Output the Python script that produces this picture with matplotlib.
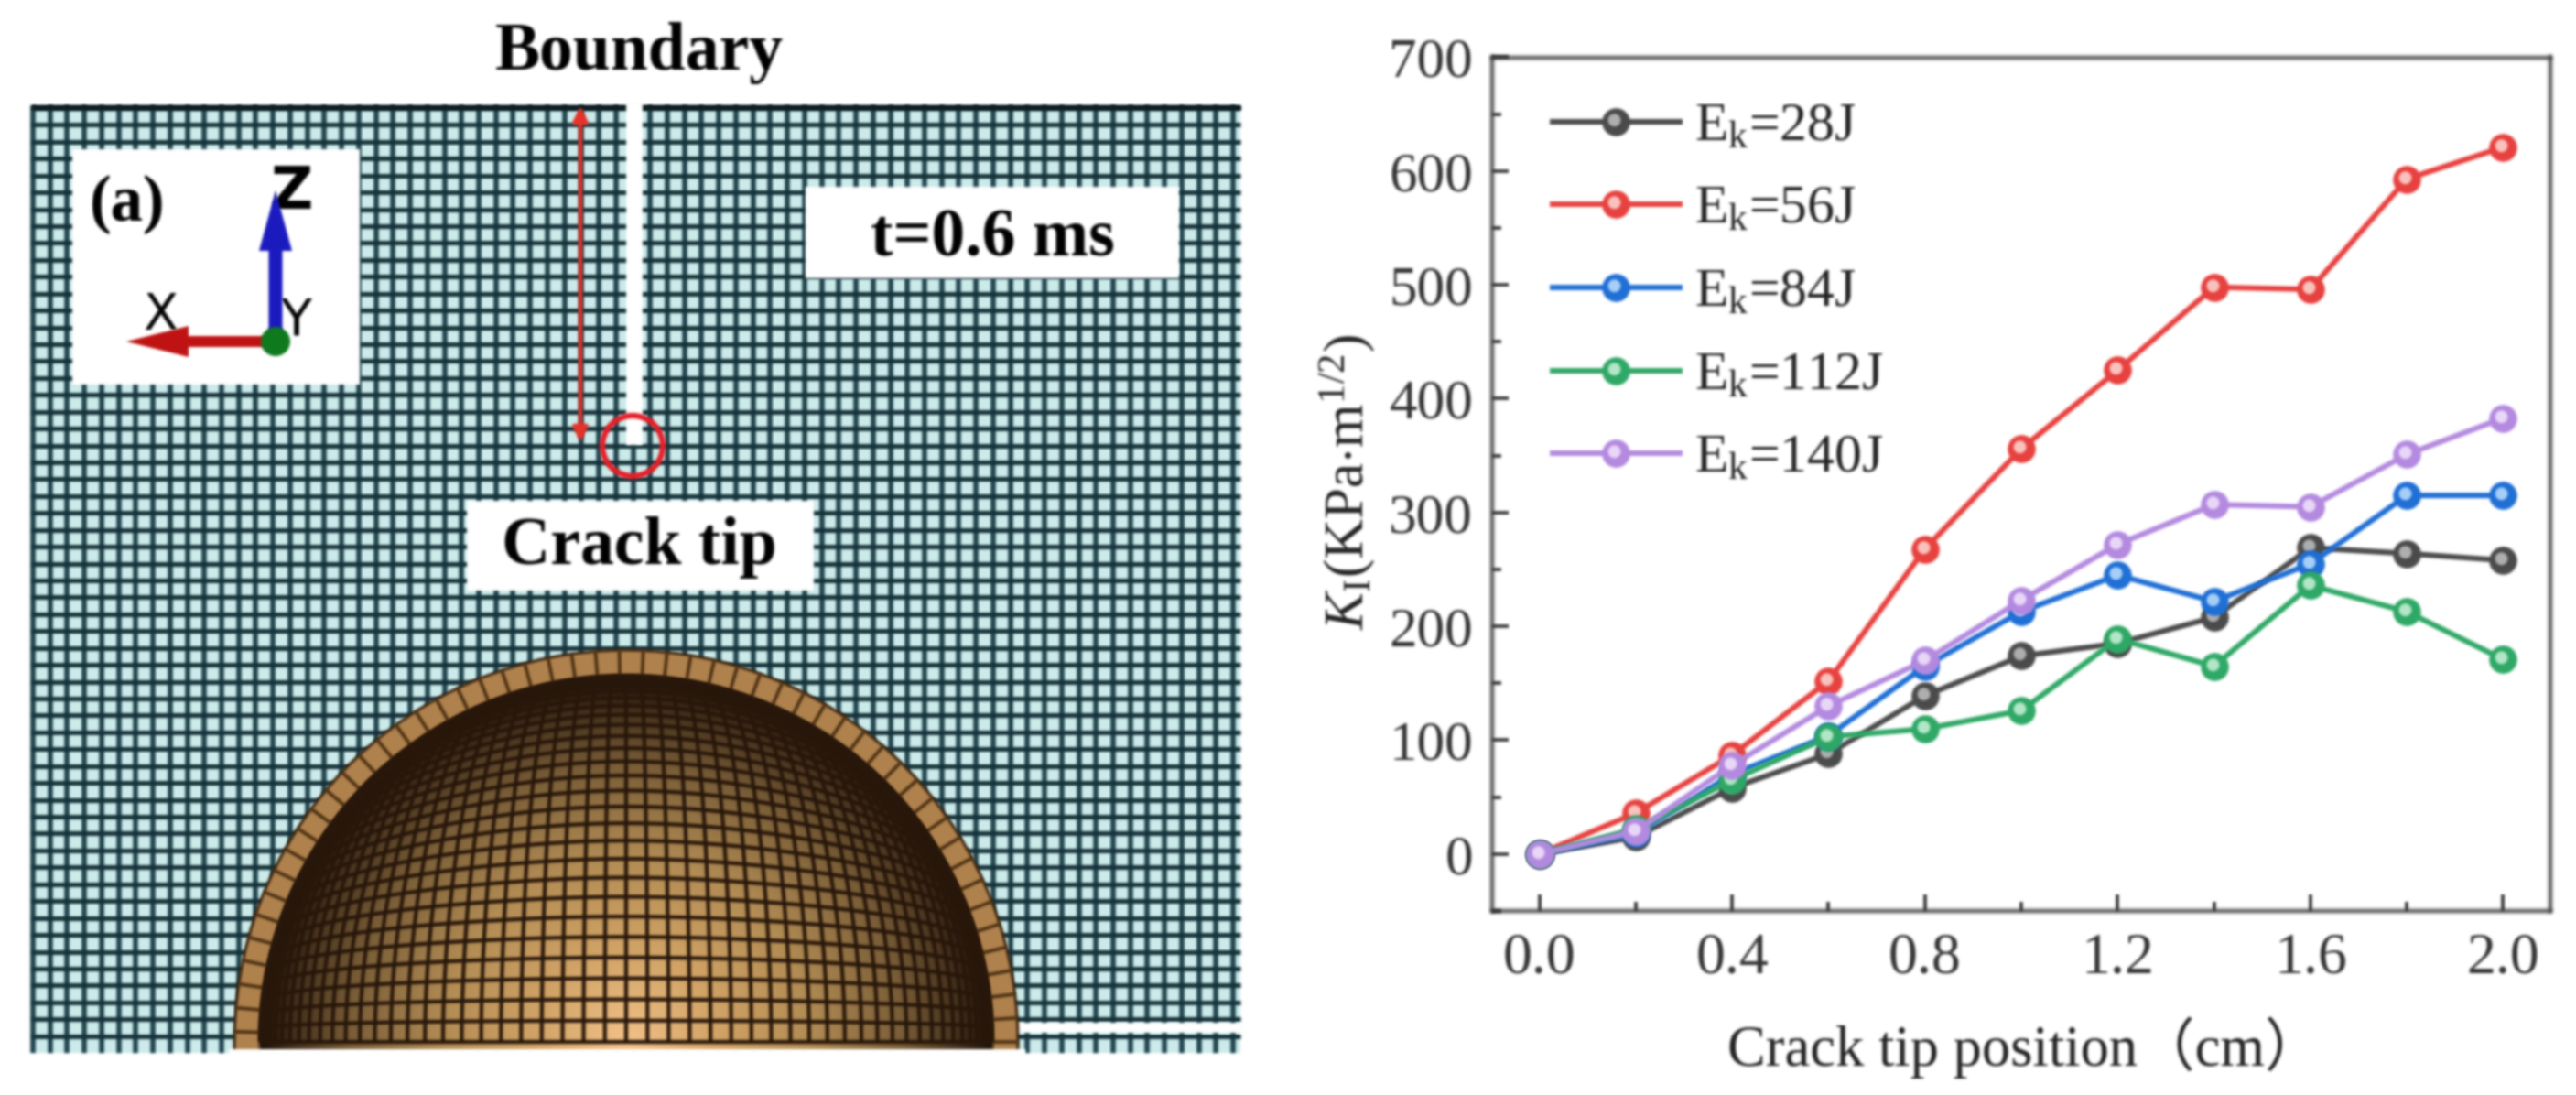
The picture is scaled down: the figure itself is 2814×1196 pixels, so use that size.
import numpy as np
import matplotlib
matplotlib.use('Agg')
import matplotlib.pyplot as plt
from matplotlib.collections import LineCollection
from matplotlib.legend_handler import HandlerTuple
from matplotlib.lines import Line2D
from matplotlib.markers import MarkerStyle
from matplotlib.patches import Circle, Patch, Rectangle, Wedge
from matplotlib.text import Text
from matplotlib.ticker import MultipleLocator
from matplotlib.transforms import Affine2D

plt.rcParams['font.family'] = ['Liberation Serif', 'Noto Sans CJK SC']
plt.rcParams['mathtext.fontset'] = 'custom'
plt.rcParams['mathtext.rm'] = 'Liberation Serif'
plt.rcParams['mathtext.it'] = 'Liberation Serif:italic'
plt.rcParams['mathtext.bf'] = 'Liberation Serif:bold'

# panel b data
position = [0.0, 0.2, 0.4, 0.6, 0.8, 1.0, 1.2, 1.4, 1.6, 1.8, 2.0]
ek_28 = [0, 15, 58, 88, 139, 174, 185, 208, 269, 264, 258]
ek_56 = [0, 36, 87, 152, 268, 356, 425, 498, 496, 593, 621]
ek_84 = [0, 18, 70, 104, 165, 213, 245, 222, 255, 315, 315]
ek_112 = [0, 22, 65, 103, 110, 126, 189, 165, 236, 213, 171]
ek_140 = [0, 20, 78, 130, 170, 223, 272, 307, 305, 351, 383]
labels = ['E$_{\\mathrm{k}}$=28J', 'E$_{\\mathrm{k}}$=56J', 'E$_{\\mathrm{k}}$=84J',
          'E$_{\\mathrm{k}}$=112J', 'E$_{\\mathrm{k}}$=140J']
colors = ['#4b4b4b', '#e8413f', '#1f6fd6', '#2fa866', '#b48ae0']
shades = ['#b0b0b0', '#fbc4c0', '#a8d0f8', '#b4e8c8', '#ead8f8']


def blur(im, dpi):
    # the reference is a soft scan, so artists get a small gaussian blur
    pad = 5
    im = np.pad(im, ((pad, pad), (pad, pad), (0, 0)))
    a = im[..., 3:]
    stack = np.concatenate([im[..., :3] * a, a], axis=2)
    weights = np.exp(-np.arange(-4, 5) ** 2 / (2 * 1.4 ** 2))
    weights /= weights.sum()
    for axis in (0, 1):
        stack = sum(w * np.roll(stack, k - 4, axis=axis) for k, w in enumerate(weights))
    out = stack.copy()
    alpha = np.maximum(stack[..., 3:], 1e-4)
    out[..., :3] = np.clip(stack[..., :3] / alpha, 0, 1)
    return out, -pad, -pad


W, H = 2814, 1196
fig = plt.figure(figsize=(W / 100, H / 100), dpi=100)

# panel a is drawn on a full figure axes in pixel units
ax0 = fig.add_axes([0, 0, 1, 1])
ax0.set_xlim(0, W)
ax0.set_ylim(H, 0)
ax0.axis('off')

left, right, top, bottom = 35, 1355, 115, 1150
mesh = '#16323a'
ax0.add_patch(Rectangle((left, top), right - left, bottom - top, fc='#cdeaea', ec='none', zorder=1))
ax0.vlines(36 + 18.73 * np.arange(0, 71), top, bottom, color='#1f434c', lw=4.0, zorder=2)
ax0.hlines(118 + 18.43 * np.arange(0, 56), left, right, color=mesh, lw=3.6, zorder=2)
ax0.hlines(top + 2, left, right, color='#101c20', lw=3.5, zorder=2)

# crack and arrow
ax0.add_patch(Rectangle((684, top - 4), 18, 375, fc='white', ec='none', zorder=3))
ax0.annotate('', xy=(634, 113), xytext=(634, 486), zorder=4,
             arrowprops=dict(arrowstyle='<|-|>', color='#e8332a', lw=3.2, mutation_scale=24))
ax0.add_patch(Circle((691, 487), 33, fc='none', ec='#e5202a', lw=4.5, zorder=4))

# white strip of the plate bottom
ax0.add_patch(Rectangle((1110, 1117), 247, 11, fc='white', ec='none', zorder=3))

# ball: inner surface with rim shading, then the shell cells
cx, cy = 684, 1138
r_out, r_in = 428, 400
img_x, img_y = np.meshgrid(np.arange(cx - r_in, cx + r_in), np.arange(cy - r_in, cy + 10))
rad = np.hypot(img_x - cx, img_y - cy) / r_in
stops = [0, 0.25, 0.5, 0.75, 0.9, 1.0]
img = np.dstack([np.interp(rad, stops, [0.95, 0.82, 0.70, 0.48, 0.28, 0.10]),
                 np.interp(rad, stops, [0.76, 0.64, 0.55, 0.37, 0.20, 0.07]),
                 np.interp(rad, stops, [0.54, 0.40, 0.33, 0.22, 0.12, 0.03])])
im = ax0.imshow(img, extent=(cx - r_in, cx + r_in, cy + 10, cy - r_in), zorder=5, aspect='auto')
im.set_clip_path(Circle((cx, cy), r_in, transform=ax0.transData))
ax0.set_xlim(0, W)
ax0.set_ylim(H, 0)

# the y axis runs downwards here, so the upper half is 180..360 degrees
ax0.add_patch(Wedge((cx, cy), r_out, 178, 362, width=r_out - r_in, fc='#b0824e', ec='#3c2610', lw=2.2, zorder=6))
t = np.radians(np.arange(0, 181, 3.5))
shell = [[(cx + r_in * np.cos(a), cy - r_in * np.sin(a)), (cx + r_out * np.cos(a), cy - r_out * np.sin(a))] for a in t]
ax0.add_collection(LineCollection(shell, colors='#4a2f12', linewidths=2.6, zorder=7))


def grid_point(a, b):
    # square grid bent to the disk, then squeezed towards the rim like a hemisphere
    d = np.maximum(np.abs(a), np.abs(b))
    n = np.maximum(np.hypot(a, b), 1e-6)
    w = d ** 2.5
    x = (1 - w) * a + w * a / n * d
    y = (1 - w) * b + w * b / n * d
    r = np.maximum(np.hypot(x, y), 1e-6)
    scale = np.sin(np.clip(r, 0, 1) * np.pi / 2) / r
    return cx + x * scale * r_in, cy - y * scale * r_in


cells = 27
fine = np.linspace(-1, 1, 161)
rows = []
cols = []
for k in np.arange(0, cells + 1) / cells:
    gx, gy = grid_point(fine, np.full_like(fine, k))
    rows.append(np.column_stack([gx, gy]))
for k in np.arange(-cells, cells + 1) / cells:
    up = np.linspace(0, 1, 81)
    gx, gy = grid_point(np.full_like(up, k), up)
    cols.append(np.column_stack([gx, gy]))
ax0.add_collection(LineCollection(rows + cols, colors='#28170a', linewidths=3.0, zorder=7))

# everything under the plate bottom is white
ax0.add_patch(Rectangle((250, 1146), 870, H - 1146 + 20, fc='white', ec='none', zorder=8))

# white label boxes
ax0.add_patch(Rectangle((79, 163), 314, 257, fc='white', ec='none', zorder=9))
ax0.add_patch(Rectangle((880, 204), 408, 100, fc='white', ec='none', zorder=9))
ax0.add_patch(Rectangle((510, 547), 379, 98, fc='white', ec='none', zorder=9))
ax0.text(698, 58, 'Boundary', fontsize=53, fontweight='bold', ha='center', va='center', zorder=10)
ax0.text(1084, 261, 't=0.6 ms', fontsize=53, fontweight='bold', ha='center', va='center', zorder=10)
ax0.text(698, 598, 'Crack tip', fontsize=53, fontweight='bold', ha='center', va='center', zorder=10)
ax0.text(139, 223, '(a)', fontsize=51, fontweight='bold', ha='center', va='center', zorder=10)

# triad
ax0.text(318, 210, 'Z', fontsize=46, fontweight='bold', family='DejaVu Sans', ha='center', va='center', zorder=10)
ax0.text(175, 345, 'X', fontsize=40, family='DejaVu Sans', ha='center', va='center', zorder=10)
ax0.text(323, 350, 'Y', fontsize=40, family='DejaVu Sans', ha='center', va='center', zorder=10)
ax0.arrow(301, 372, 0, -164, width=15, head_width=36, head_length=66, length_includes_head=True,
          fc='#1a1ac0', ec='none', zorder=11)
ax0.arrow(301, 373, -163, 0, width=12, head_width=34, head_length=68, length_includes_head=True,
          fc='#c01212', ec='none', zorder=11)
ax0.add_patch(Circle((301, 373), 16, fc='#0f7a1e', ec='none', zorder=12))

# panel b
ax = fig.add_axes([1630 / W, 1 - 995 / H, (2786 - 1630) / W, (995 - 62.5) / H])
series = [ek_28, ek_56, ek_84, ek_112, ek_140]
highlight = MarkerStyle('o', transform=Affine2D().translate(-0.14, 0.16))
handles = []
for vals, col, sh, lab in zip(series, colors, shades, labels):
    ln, = ax.plot(position, vals, '-o', color=col, lw=4.3, ms=21, mec=col)
    hi, = ax.plot(position, vals, ls='none', marker=highlight, ms=10, mfc=sh, mec='none')
    handles.append((ln, hi))

ax.set_xlim(-0.098, 2.098)
ax.set_ylim(-50, 700)
ax.xaxis.set_major_locator(MultipleLocator(0.4))
ax.xaxis.set_minor_locator(MultipleLocator(0.2))
ax.yaxis.set_major_locator(MultipleLocator(100))
ax.yaxis.set_minor_locator(MultipleLocator(50))
ax.tick_params(which='major', direction='in', length=13, width=2.6, colors='#333333')
ax.tick_params(which='minor', direction='in', length=7, width=2.6, colors='#333333')
ax.tick_params(axis='y', which='major', labelsize=44, pad=15)
ax.tick_params(axis='x', which='major', labelsize=46, pad=17)
for s in ax.spines.values():
    s.set_linewidth(2.6)
    s.set_color('#333333')

ax.legend(handles, labels, handler_map={tuple: HandlerTuple(ndivide=1, pad=0)}, loc='upper left',
          bbox_to_anchor=(0.057, 0.947), frameon=False, fontsize=43, numpoints=1, handlelength=2.33,
          handletextpad=0.27, labelspacing=0.6, borderpad=0, borderaxespad=0, labelcolor='#222222')
ax0.text(2468, 156, '(b)', fontsize=51, fontweight='bold', ha='center', va='center', zorder=20)
ax0.text(1472, 526, '$\\mathit{K}_{\\mathrm{I}}$(KPa$\\cdot$m$^{1/2}$)', fontsize=44, rotation=90,
         ha='center', va='center', color='#222222', zorder=20)
ax0.text(2212, 1144, 'Crack tip position（cm）', fontsize=45, ha='center', va='center', color='#222222', zorder=20)

for art in fig.findobj(lambda a: isinstance(a, (Line2D, Text, Patch, LineCollection))):
    if art is fig.patch or art is ax.patch or art is ax0.patch:
        continue
    art.set_agg_filter(blur)

fig.savefig('out.png', dpi=100, facecolor='white')
